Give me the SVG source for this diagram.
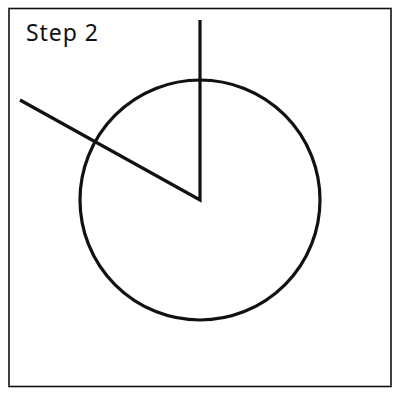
<svg xmlns="http://www.w3.org/2000/svg" width="400" height="400" viewBox="0 0 400 400">
<style>
.frame{fill:#fff;stroke:#111;stroke-width:1.6}
.shape{fill:none;stroke:#111;stroke-width:3.2;stroke-linecap:butt;stroke-linejoin:miter}
.label{font-family:"Noto Sans","DejaVu Sans",sans-serif;font-size:23px;fill:#111}
</style>
<rect width="400" height="400" fill="#fff"/>
<rect class="frame" x="9" y="8.5" width="382" height="378"/>
<text class="label" x="26" y="41" textLength="72" lengthAdjust="spacing">Step 2</text>
<g id="circle"><circle class="shape" cx="200" cy="200" r="120"/></g>
<g id="connectors"><polyline class="shape" points="200,20 200,200 20,100"/></g>
</svg>
